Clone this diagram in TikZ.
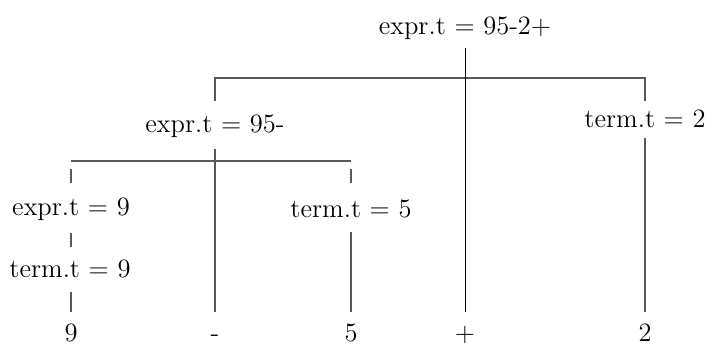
\documentclass[tikz,border=0pt]{standalone}
\begin{document}
\begin{tikzpicture}[x=0.5pt,y=-0.5pt,
  lbl/.style={anchor=base,inner sep=0pt,font=\fontsize{13.25}{16}\selectfont},
  edge/.style={draw=black!65,line width=0.6pt},
  mainedge/.style={draw=black,line width=0.5pt}]
\useasboundingbox (0,0) rectangle (712,345);
% labels
\node[lbl] (root) at (465,34) {expr.t = 95-2+};
\node[lbl] (e95) at (215,132) {expr.t = 95-};
\node[lbl] (t2) at (645,127) {term.t = 2};
\node[lbl] (e9) at (71,215) {expr.t = 9};
\node[lbl] (t5) at (351,217) {term.t = 5};
\node[lbl] (t9) at (70,277) {term.t = 9};
\node[lbl] (l9) at (71,341) {9};
\node[lbl] (lm) at (215,341) {-};
\node[lbl] (l5) at (351,341) {5};
\node[lbl] (lp) at (465,341) {+};
\node[lbl] (l2) at (645,341) {2};
% coordinates
\coordinate (rootS) at (465,48);
\coordinate (barL) at (215,78);
\coordinate (barR) at (645,78);
\coordinate (dropL) at (215,101);
\coordinate (dropR) at (645,101);
\coordinate (t2S) at (645,138);
\coordinate (e95S) at (215,149);
\coordinate (lbarL) at (71,161);
\coordinate (lbarR) at (351,161);
\coordinate (tickL1) at (71,169);
\coordinate (tickL2) at (71,183);
\coordinate (tickR1) at (351,169);
\coordinate (tickR2) at (351,183);
\coordinate (e9S) at (71,233);
\coordinate (t9N) at (71,247);
\coordinate (t9S) at (71,292);
\coordinate (t5S) at (351,232);
\coordinate (bot9) at (71,312);
\coordinate (botm) at (215,312);
\coordinate (bot5) at (351,312);
\coordinate (botp) at (465,312);
\coordinate (bot2) at (645,312);
% connectors
\draw[edge] (dropL) -- (barL) -- (barR) -- (dropR);
\draw[mainedge] (rootS) -- (botp);
\draw[edge] (t2S) -- (bot2);
\draw[edge] (e95S) -- (botm);
\draw[edge] (lbarL) -- (lbarR);
\draw[edge] (tickL1) -- (tickL2);
\draw[edge] (tickR1) -- (tickR2);
\draw[edge] (e9S) -- (t9N);
\draw[edge] (t9S) -- (bot9);
\draw[edge] (t5S) -- (bot5);
\end{tikzpicture}
\end{document}
